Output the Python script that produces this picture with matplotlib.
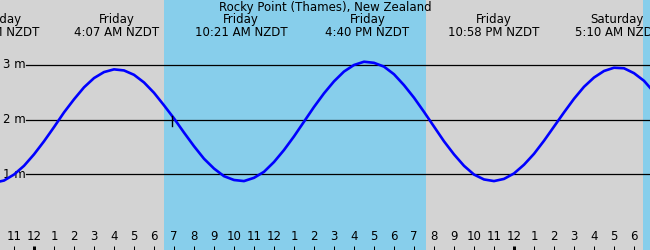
import matplotlib
matplotlib.use("Agg")
import matplotlib.pyplot as plt
import matplotlib.transforms as mtransforms

# hours from Friday midnight, tide height (m) every half hour
hours = [-2.0, -1.5, -1.0, -0.5, 0.0, 0.5, 1.0, 1.5, 2.0, 2.5, 3.0, 3.5, 4.0,
         4.5, 5.0, 5.5, 6.0, 6.5, 7.0, 7.5, 8.0, 8.5, 9.0, 9.5, 10.0,
         10.5, 11.0, 11.5, 12.0, 12.5, 13.0, 13.5, 14.0, 14.5, 15.0, 15.5, 16.0, 16.5,
         17.0, 17.5, 18.0, 18.5, 19.0, 19.5, 20.0, 20.5, 21.0, 21.5, 22.0, 22.5,
         23.0, 23.5, 24.0, 24.5, 25.0, 25.5, 26.0, 26.5, 27.0, 27.5, 28.0, 28.5, 29.0,
         29.5, 30.0, 30.5, 31.0]
height = [0.84, 0.88, 0.99, 1.15, 1.36, 1.60, 1.86, 2.13, 2.37, 2.59, 2.76, 2.87, 2.92,
          2.90, 2.82, 2.68, 2.49, 2.26, 2.02, 1.76, 1.51, 1.28, 1.10, 0.96, 0.89,
          0.87, 0.93, 1.04, 1.22, 1.44, 1.69, 1.96, 2.23, 2.48, 2.70, 2.88, 3.00, 3.06,
          3.04, 2.97, 2.83, 2.63, 2.40, 2.14, 1.87, 1.60, 1.36, 1.15, 0.99, 0.90,
          0.87, 0.91, 1.01, 1.17, 1.37, 1.61, 1.87, 2.13, 2.38, 2.60, 2.77, 2.89, 2.95,
          2.94, 2.85, 2.71, 2.50]

# high / low tide labels
event_t = [-2.0, 4.117, 10.35, 16.67, 22.97, 29.17]
event_day = ["Thursday", "Friday", "Friday", "Friday", "Friday", "Saturday"]
event_time = ["10:00 PM NZDT", "4:07 AM NZDT", "10:21 AM NZDT",
              "4:40 PM NZDT", "10:58 PM NZDT", "5:10 AM NZDT"]

# daylight periods (hours)
day_start = [6.5, 30.45]
day_end = [19.6, 33.0]

levels = [1, 2, 3]
level_labels = ["1 m", "2 m", "3 m"]

tick_hours = list(range(-1, 31))
now_t = 6.9

title = "Rocky Point (Thames), New Zealand"

W, H = 650, 250
fig = plt.figure(figsize=(6.5, 2.5), dpi=100)
ax = fig.add_axes([0, 0, 1, 1])
ax.set_xlim(-1.7, 30.8)
ax.set_ylim(1 - (H - 174) / 54.5, 3 + 65 / 54.5)
ax.axis("off")
ax.add_patch(plt.Rectangle((0, 0), 1, 1, transform=ax.transAxes,
                           color="#d3d3d3", zorder=0))

for s, e in zip(day_start, day_end):
    ax.axvspan(s, e, color="#87ceeb", lw=0, zorder=1)

bt = mtransforms.blended_transform_factory(ax.transData, ax.transAxes)
lt = mtransforms.blended_transform_factory(ax.transAxes, ax.transData)

for lv, lab in zip(levels, level_labels):
    ax.plot([26 / W, 1], [lv, lv], color="black", lw=0.9, transform=lt, zorder=2)
    ax.text(3 / W, lv, lab, transform=lt, ha="left", va="center", fontsize=8.5, zorder=2)

ax.plot(hours, height, color="#0000ff", lw=1.9, zorder=3, solid_capstyle="round")

ax.plot([now_t, now_t], [2 - 6 / 54.5, 2 + 4 / 54.5], color="black", lw=1, zorder=4)

for t, d, tm in zip(event_t, event_day, event_time):
    ax.text(t, 1 - 20 / H, d, transform=bt, ha="center", va="center", fontsize=8.5)
    ax.text(t, 1 - 32.5 / H, tm, transform=bt, ha="center", va="center", fontsize=8.5)

ax.text(0.5, 1 - 7.5 / H, title, transform=ax.transAxes, ha="center", va="center",
        fontsize=8.5)

for h in tick_hours:
    lab = str((h % 12) or 12)
    ax.text(h, 1 - 237 / H, lab, transform=bt, ha="center", va="center", fontsize=8.5)
    lw = 3 if h % 24 == 0 else 1
    ax.plot([h, h], [0, 4.5 / H], color="black", lw=lw * 0.72, transform=bt,
            solid_capstyle="butt")

fig.savefig("out.png", dpi=100)
